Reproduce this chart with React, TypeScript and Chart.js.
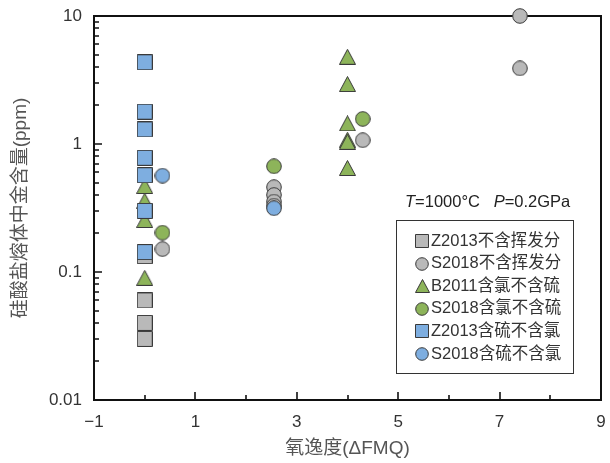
import React, { useEffect, useRef } from 'react';
import { Chart, registerables } from 'chart.js';

Chart.register(...registerables);

const FONT = "'Liberation Sans', Arial, 'Noto Sans CJK SC', sans-serif";

// ---- Data ----
const seriesNames = [
  'Z2013不含挥发分',
  'S2018不含挥发分',
  'B2011含氯不含硫',
  'S2018含氯不含硫',
  'Z2013含硫不含氯',
  'S2018含硫不含氯',
];

const z2013NoVolX = [0, 0, 0, 0];
const z2013NoVolY = [0.133, 0.06, 0.04, 0.03];

const s2018NoVolX = [0.35, 2.55, 2.55, 2.55, 2.55, 4.3, 7.4, 7.4];
const s2018NoVolY = [0.151, 0.46, 0.4, 0.355, 0.33, 1.07, 10, 3.9];

const b2011ClX = [0, 0, 0, 0, 4, 4, 4, 4, 4, 4];
const b2011ClY = [0.47, 0.36, 0.255, 0.09, 4.8, 2.94, 1.45, 1.08, 1.04, 0.65];

const s2018ClX = [0.35, 2.55, 4.3];
const s2018ClY = [0.203, 0.67, 1.57];

const z2013SX = [0, 0, 0, 0, 0, 0, 0];
const z2013SY = [4.35, 1.79, 1.3, 0.78, 0.57, 0.3, 0.143];

const s2018SX = [0.35, 2.55];
const s2018SY = [0.566, 0.315];

const xTickValues = [-1, 1, 3, 5, 7, 9];
const yTickValues = [0.01, 0.1, 1, 10];

const GRAY = '#b9b9b9';
const GREEN = '#8db45a';
const BLUE = '#7eaee0';
const EDGE = '#3a3a3a';

type Shape = 'square' | 'circle' | 'triangle';

function makeMarker(shape: Shape, fill: string, size: number): HTMLCanvasElement {
  const c = document.createElement('canvas');
  const w = shape === 'triangle' ? size + 2 : size + 1;
  const h = size + 1;
  c.width = w;
  c.height = h;
  const ctx = c.getContext('2d')!;
  ctx.fillStyle = fill;
  ctx.strokeStyle = EDGE;
  ctx.lineWidth = 1;
  ctx.beginPath();
  if (shape === 'square') {
    ctx.rect(0.5, 0.5, size, size);
  } else if (shape === 'circle') {
    ctx.arc(w / 2, h / 2, size / 2 - 0.2, 0, Math.PI * 2);
  } else {
    ctx.moveTo(w / 2, 0.5);
    ctx.lineTo(w - 0.5, h - 0.5);
    ctx.lineTo(0.5, h - 0.5);
    ctx.closePath();
  }
  ctx.fill();
  ctx.stroke();
  return c;
}

function pts(xs: number[], ys: number[]) {
  return xs.map((x, i) => ({ x, y: ys[i] }));
}

export default function App() {
  const ref = useRef<HTMLCanvasElement>(null);

  useEffect(() => {
    const styles: [Shape, string][] = [
      ['square', GRAY],
      ['circle', GRAY],
      ['triangle', GREEN],
      ['circle', GREEN],
      ['square', BLUE],
      ['circle', BLUE],
    ];
    const big = styles.map(([s, f]) => makeMarker(s, f, 15));
    const small = styles.map(([s, f]) => makeMarker(s, f, 13));
    const dataList = [
      pts(z2013NoVolX, z2013NoVolY),
      pts(s2018NoVolX, s2018NoVolY),
      pts(b2011ClX, b2011ClY),
      pts(s2018ClX, s2018ClY),
      pts(z2013SX, z2013SY),
      pts(s2018SX, s2018SY),
    ];
    const orders = [5, 4, 3, 2, 1, 0];

    const framePlugin = {
      id: 'frame',
      beforeDatasetsDraw(chart: any) {
        const { ctx, chartArea: a, scales } = chart;
        const xs = scales.x;
        const ys = scales.y;
        ctx.save();
        ctx.strokeStyle = '#111';
        ctx.lineWidth = 1.6;
        ctx.beginPath();
        for (let v = -1; v <= 9; v++) {
          const px = Math.round(xs.getPixelForValue(v));
          const len = Math.abs(v % 2) === 1 ? 8 : 5;
          ctx.moveTo(px, a.bottom);
          ctx.lineTo(px, a.bottom - len);
        }
        for (const d of [0.01, 0.1, 1]) {
          for (let k = 1; k <= 9; k++) {
            const py = Math.round(ys.getPixelForValue(k * d));
            const len = k === 1 ? 8 : 5;
            ctx.moveTo(a.left, py);
            ctx.lineTo(a.left + len, py);
          }
        }
        ctx.stroke();
        ctx.lineWidth = 2;
        ctx.strokeRect(a.left, a.top, a.right - a.left, a.bottom - a.top);
        ctx.restore();
      },
      afterDraw(chart: any) {
        const { ctx } = chart;
        ctx.save();
        // condition note
        ctx.fillStyle = '#222';
        ctx.textBaseline = 'middle';
        ctx.textAlign = 'left';
        let x = 405;
        const y = 202;
        const parts: [string, boolean][] = [
          ['T', true],
          ['=1000°C   ', false],
          ['P', true],
          ['=0.2GPa', false],
        ];
        for (const [t, it] of parts) {
          ctx.font = `${it ? 'italic ' : ''}16.5px ${FONT}`;
          ctx.fillText(t, x, y);
          x += ctx.measureText(t).width;
        }
        // legend
        ctx.fillStyle = '#fff';
        ctx.fillRect(396, 220, 177, 153);
        ctx.strokeStyle = '#333';
        ctx.lineWidth = 1;
        ctx.strokeRect(396.5, 220.5, 177, 153);
        ctx.font = `16.5px ${FONT}`;
        ctx.fillStyle = '#333';
        seriesNames.forEach((name, i) => {
          const cy = 241 + i * 22.6;
          const img = small[i];
          ctx.drawImage(img, Math.round(422 - img.width / 2), Math.round(cy - img.height / 2));
          ctx.fillText(name, 431, cy);
        });
        ctx.restore();
      },
    };

    const chart = new Chart(ref.current!, {
      type: 'scatter',
      data: {
        datasets: dataList.map((d, i) => ({
          label: seriesNames[i],
          data: d,
          pointStyle: big[i] as any,
          pointRadius: 8,
          order: orders[i],
          clip: false as any,
          showLine: false,
        })),
      },
      options: {
        responsive: false,
        devicePixelRatio: 1,
        animation: false,
        layout: { padding: { left: 0, right: 6, top: 16, bottom: 0 } },
        plugins: { legend: { display: false }, tooltip: { enabled: false } },
        scales: {
          x: {
            type: 'linear',
            min: -1,
            max: 9,
            afterFit: (s: any) => {
              s.height = 63;
              s.paddingLeft = 0;
              s.paddingRight = 0;
            },
            afterBuildTicks: (s: any) => { s.ticks = xTickValues.map((v) => ({ value: v })); },
            grid: { display: false, drawTicks: false },
            border: { display: false },
            ticks: {
              padding: 12,
              maxRotation: 0,
              autoSkip: false,
              color: '#333',
              font: { family: FONT, size: 17 },
              callback: (v: any) => (v < 0 ? '\u2212' + Math.abs(v) : String(v)),
            },
            title: {
              display: true,
              text: '氧逸度(ΔFMQ)',
              color: '#555',
              font: { family: FONT, size: 19 },
              padding: { top: 0, bottom: 3 },
            },
          },
          y: {
            type: 'logarithmic',
            min: 0.01,
            max: 10,
            afterFit: (s: any) => {
              s.width = 94;
              s.paddingTop = 0;
              s.paddingBottom = 0;
            },
            afterBuildTicks: (s: any) => { s.ticks = yTickValues.map((v) => ({ value: v })); },
            grid: { display: false, drawTicks: false },
            border: { display: false },
            ticks: {
              padding: 12,
              autoSkip: false,
              color: '#333',
              font: { family: FONT, size: 17 },
              callback: (v: any) => String(v),
            },
            title: {
              display: true,
              text: '硅酸盐熔体中金含量(ppm)',
              color: '#555',
              font: { family: FONT, size: 19 },
              padding: { top: 9, bottom: 0 },
            },
          },
        },
      },
      plugins: [framePlugin],
    });
    return () => chart.destroy();
  }, []);

  return (
    <div style={{ position: 'absolute', left: 0, top: 0, width: 610, height: 463, background: '#fff' }}>
      <canvas ref={ref} width={610} height={463} style={{ display: 'block', width: 610, height: 463 }} />
    </div>
  );
}
